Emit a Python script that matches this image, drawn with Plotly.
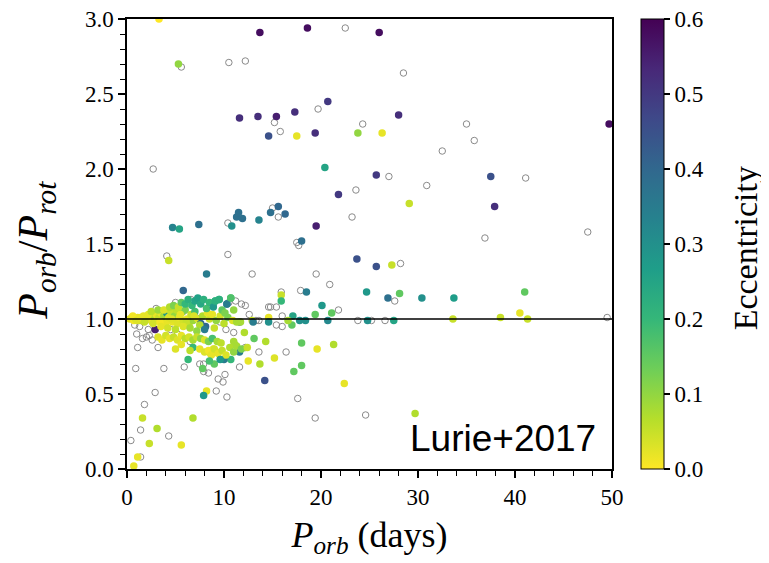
import plotly.graph_objects as go

# ---- colored points (P_orb, P_orb/P_rot, eccentricity) ----
col_x = [3.3, 13.7, 18.6, 5.3, 20.7, 11.6, 13.5, 15.4, 17.3, 14.6, 17.5, 19.4, 23.8, 20.4, 26.0, 28.0, 26.3, 49.7,
         21.8, 4.7, 5.4, 7.4, 10.8, 11.3, 11.5, 11.9, 13.6, 14.8, 15.6, 16.3, 19.5, 18.0, 23.7, 4.3, 8.2, 5.8, 18.5,
         24.7, 15.9, 15.9, 20.1, 19.4, 21.1, 24.8, 17.8, 18.4, 20.7, 17.0, 17.1, 14.6, 14.6, 12.9, 25.7, 37.5, 29.1,
         37.9, 25.7, 27.3, 26.9, 28.1, 30.4, 33.7, 41.0, 27.5, 33.6, 38.5, 40.5, 41.3, 2.9, 1.6, 3.1, 2.3, 5.6, 1.1,
         0.7, 6.8, 8.2, 7.9, 14.2, 22.4, 17.2, 18.0, 18.0, 21.3, 19.6, 15.2, 13.7, 12.5, 14.3, 13.1, 12.1, 11.6, 10.7,
         10.0, 9.0, 6.3, 6.8, 29.7, 10.7, 10.3, 9.5, 9.1, 11.6, 13.0, 11.7, 16.6, 11.0, 11.1, 8.9, 9.2, 8.6,
         # dense cluster along 1.0
         0.3, 0.5, 0.7, 0.9, 1.1, 1.3, 1.5, 1.7, 1.9, 2.1, 2.3, 2.5, 2.6, 2.8, 3.0, 3.1, 3.3, 3.5, 3.6, 3.8, 4.0, 4.1,
         4.3, 4.5, 4.7, 4.9, 5.1, 5.2, 5.4, 5.6, 5.8, 6.0, 6.2, 6.4, 6.6, 6.8, 7.0, 7.3, 7.6, 7.8, 8.1, 8.5, 8.8, 9.2,
         9.6, 10.0, 10.4, 10.9, 11.3,
         0.6, 1.0, 1.4, 1.8, 2.2, 2.7, 3.4, 4.6, 5.5, 6.1, 6.9, 7.5, 8.3,
         # upper band
         2.5, 3.2, 3.8, 4.4, 4.8, 5.3, 5.6, 6.0, 6.3, 6.7, 7.0, 7.3, 7.6, 7.9, 8.2, 8.5, 8.9, 9.1, 9.5, 9.8, 10.3,
         10.7, 10.1, 11.0,
         # lower bands
         3.5, 4.2, 5.0, 5.8, 6.5, 7.2, 8.0, 9.0,
         3.2, 3.6, 4.0, 4.4, 4.8, 5.2, 5.6, 6.0, 6.4, 6.8, 7.2, 7.6, 8.0, 8.4, 8.8, 9.3, 9.7,
         7.5, 8.0, 8.4, 8.7, 9.0, 9.4, 9.8, 10.2, 10.6, 11.0, 11.3, 11.8, 12.4, 9.6, 8.5, 7.8, 6.5, 5.6, 5.0]
col_y = [3.00, 2.91, 2.94, 2.70, 2.45, 2.34, 2.35, 2.35, 2.38, 2.22, 2.22, 2.24, 2.24, 2.01, 2.91, 2.36, 2.24, 2.30,
         1.83, 1.61, 1.60, 1.63, 1.62, 1.68, 1.71, 1.67, 1.66, 1.71, 1.75, 1.70, 1.62, 1.52, 1.40, 1.39, 1.30, 1.19, 1.18,
         1.18, 1.16, 1.12, 1.09, 1.03, 1.04, 0.99, 0.99, 0.99, 0.99, 0.96, 1.02, 1.01, 0.98, 0.99, 1.96, 1.95, 1.77,
         1.75, 1.35, 1.36, 1.14, 1.17, 1.14, 1.14, 1.18, 0.99, 1.00, 1.01, 1.04, 1.00, 0.93, 0.34, 0.27, 0.17, 0.16, 0.08,
         0.02, 0.34, 0.52, 0.49, 0.59, 0.57, 0.65, 0.69, 0.84, 0.83, 0.80, 0.74, 0.70, 0.72, 0.85, 0.87, 0.91, 0.78, 0.73,
         0.73, 0.70, 0.73, 0.81, 0.37, 1.14, 1.10, 1.13, 1.12, 0.98, 0.98, 0.98, 0.99, 0.85, 0.83, 0.80, 0.78, 0.77,
         1.00, 1.01, 0.99, 1.00, 1.01, 0.99, 1.00, 1.02, 0.99, 1.01, 1.00, 1.02, 0.98, 1.01, 1.03, 0.99, 1.01, 1.04, 0.98,
         1.02, 0.97, 1.04, 1.01, 1.05, 0.98, 1.02, 1.06, 0.97, 1.01, 1.04, 0.99, 1.06, 1.00, 0.97, 1.03, 0.99, 1.05, 1.00,
         0.97, 1.02, 0.95, 1.00, 1.03, 0.99, 1.02, 0.97, 1.01, 0.99, 0.98,
         1.02, 0.99, 1.01, 0.98, 1.03, 0.97, 0.98, 1.00, 1.03, 0.98, 1.02, 0.96, 1.04,
         1.05, 1.06, 1.06, 1.08, 1.09, 1.08, 1.11, 1.10, 1.13, 1.09, 1.12, 1.14, 1.10, 1.13, 1.07, 1.11, 1.08, 1.12, 1.13,
         1.06, 1.10, 1.14, 1.04, 1.06,
         0.95, 0.94, 0.93, 0.95, 0.94, 0.92, 0.93, 0.94,
         0.88, 0.86, 0.89, 0.87, 0.88, 0.86, 0.89, 0.87, 0.88, 0.86, 0.88, 0.87, 0.86, 0.85, 0.87, 0.85, 0.84,
         0.80, 0.78, 0.79, 0.76, 0.80, 0.77, 0.79, 0.76, 0.81, 0.78, 0.82, 0.80, 0.81, 0.73, 0.72, 0.67, 0.79, 0.83, 0.80]
col_e = [0.00, 0.58, 0.58, 0.10, 0.50, 0.52, 0.52, 0.55, 0.52, 0.45, 0.02, 0.52, 0.10, 0.25, 0.58, 0.52, 0.02, 0.58,
         0.50, 0.33, 0.25, 0.38, 0.30, 0.38, 0.38, 0.38, 0.33, 0.38, 0.40, 0.40, 0.55, 0.38, 0.45, 0.05, 0.35, 0.40, 0.35,
         0.28, 0.05, 0.20, 0.28, 0.15, 0.15, 0.30, 0.30, 0.30, 0.32, 0.15, 0.25, 0.02, 0.30, 0.05, 0.50, 0.45, 0.05,
         0.52, 0.45, 0.05, 0.38, 0.15, 0.30, 0.27, 0.15, 0.25, 0.05, 0.05, 0.02, 0.05, 0.55, 0.05, 0.07, 0.05, 0.02, 0.02,
         0.02, 0.07, 0.02, 0.28, 0.45, 0.02, 0.15, 0.15, 0.15, 0.07, 0.02, 0.03, 0.07, 0.02, 0.07, 0.15, 0.07, 0.35, 0.20,
         0.35, 0.15, 0.20, 0.20, 0.07, 0.17, 0.35, 0.22, 0.22, 0.35, 0.35, 0.08, 0.08, 0.08, 0.08, 0.02, 0.02, 0.02,
         0.02, 0.03, 0.01, 0.04, 0.02, 0.05, 0.03, 0.02, 0.06, 0.02, 0.04, 0.03, 0.02, 0.07, 0.02, 0.03, 0.05, 0.02, 0.04,
         0.08, 0.02, 0.28, 0.03, 0.05, 0.02, 0.10, 0.06, 0.03, 0.02, 0.08, 0.04, 0.12, 0.02, 0.06, 0.05, 0.09, 0.18, 0.03,
         0.40, 0.07, 0.40, 0.05, 0.02, 0.10, 0.04, 0.06, 0.12, 0.03, 0.08,
         0.01, 0.03, 0.02, 0.05, 0.02, 0.04, 0.01, 0.03, 0.02, 0.05, 0.03, 0.07, 0.02,
         0.06, 0.09, 0.03, 0.07, 0.12, 0.05, 0.15, 0.20, 0.22, 0.20, 0.25, 0.26, 0.24, 0.22, 0.18, 0.20, 0.28, 0.22, 0.22,
         0.15, 0.35, 0.17, 0.12, 0.10,
         0.02, 0.04, 0.06, 0.03, 0.08, 0.10, 0.35, 0.05,
         0.03, 0.02, 0.04, 0.02, 0.05, 0.03, 0.02, 0.06, 0.04, 0.08, 0.05, 0.10, 0.03, 0.12, 0.18, 0.08, 0.06,
         0.02, 0.03, 0.01, 0.02, 0.04, 0.02, 0.05, 0.03, 0.07, 0.10, 0.08, 0.12, 0.05, 0.28, 0.18, 0.15, 0.06, 0.02, 0.03]

# ---- points without eccentricity (hollow) ----
hol_x = [22.5, 5.6, 10.5, 12.2, 19.7, 15.2, 15.8, 24.3, 2.7, 28.5, 35.0, 35.8, 32.5, 23.6, 23.2, 10.4, 15.0, 15.6,
         17.5, 17.7, 4.1, 10.4, 12.9, 19.5, 20.9, 17.9, 15.9, 21.8, 23.8, 14.6, 14.8, 15.4, 16.0, 15.4, 16.0, 13.3,
         13.6, 27.0, 30.9, 41.1, 47.5, 36.9, 28.2, 27.6, 25.2, 26.6, 49.5, 5.0, 6.6, 1.6, 1.1, 0.9, 3.8, 2.9, 1.8,
         1.4, 4.3, 0.4, 1.4, 9.2, 10.3, 5.9, 7.9, 8.4, 7.5, 7.9, 10.1, 11.6, 17.6, 19.4, 24.6, 16.4, 13.6, 12.2,
         2.0, 2.3, 2.6, 3.2, 2.9, 1.3, 2.2, 4.5, 3.0, 5.8, 8.9, 9.6, 10.5, 11.2, 11.8, 12.2, 6.5, 5.2, 8.6, 6.2,
         10.2, 11.0, 12.6, 7.1, 0.8, 1.0, 9.4, 9.9, 6.2]
hol_y = [2.94, 2.68, 2.71, 2.72, 2.40, 2.31, 2.25, 2.30, 2.00, 2.64, 2.30, 2.19, 2.12, 1.86, 1.68, 1.64, 1.74, 1.68,
         1.51, 1.49, 1.42, 1.43, 1.30, 1.30, 1.23, 1.19, 1.18, 1.06, 0.99, 1.08, 1.08, 1.08, 1.02, 0.96, 0.95, 0.99,
         0.99, 1.95, 1.89, 1.94, 1.58, 1.54, 1.37, 1.12, 0.99, 0.99, 1.01, 1.11, 1.13, 0.87, 0.81, 0.67, 0.67, 0.51, 0.43,
         0.26, 0.22, 0.19, 0.08, 0.52, 0.48, 0.68, 0.65, 0.64, 0.70, 0.70, 0.63, 0.68, 0.47, 0.34, 0.36, 0.78, 0.78, 0.81,
         0.88, 0.89, 0.86, 0.81, 0.93, 0.95, 0.93, 0.93, 1.07, 1.05, 1.10, 0.98, 1.11, 1.12, 1.10, 1.09, 0.85, 0.90, 1.02,
         0.96, 0.93, 0.91, 1.03, 1.01, 0.96, 0.90, 0.60, 0.58, 1.10]

x_ticks = [0, 10, 20, 30, 40, 50]
y_ticks = [0.0, 0.5, 1.0, 1.5, 2.0, 2.5, 3.0]
cb_ticks = [0.0, 0.1, 0.2, 0.3, 0.4, 0.5, 0.6]

SERIF = "Liberation Serif"

fig = go.Figure()
fig.add_trace(go.Scatter(
    x=hol_x, y=hol_y, mode="markers",
    marker=dict(size=6.5, color="rgba(0,0,0,0)", line=dict(color="#8a8a8a", width=1)),
    showlegend=False, hoverinfo="skip"))
fig.add_trace(go.Scatter(
    x=col_x, y=col_y, mode="markers",
    marker=dict(size=7.5, color=col_e, colorscale="Viridis", reversescale=True, cmin=0, cmax=0.6,
                line=dict(width=0),
                colorbar=dict(x=1.06, xanchor="left", xpad=0, ypad=0, y=0.5, yanchor="middle",
                              len=1, lenmode="fraction", thickness=23,
                              outlinewidth=1, outlinecolor="black",
                              tickvals=cb_ticks, ticktext=[f"{v:.1f}" for v in cb_ticks],
                              ticks="outside", ticklen=6, tickwidth=1.5, tickcolor="black",
                              ticklabeloverflow="allow",
                              tickfont=dict(family=SERIF, size=23, color="black"))),
    showlegend=False))

fig.add_shape(type="line", xref="x", yref="y", x0=0, x1=50, y0=1, y1=1,
              line=dict(color="black", width=1.5), layer="above")

fig.add_annotation(x=48.6, y=0.055, xref="x", yref="y", text="Lurie+2017", showarrow=False,
                   xanchor="right", yanchor="bottom",
                   font=dict(family="Liberation Sans", size=37, color="black"))

# colorbar title
fig.add_annotation(x=1.276, y=0.49, xref="paper", yref="paper", text="Eccentricity", showarrow=False,
                   textangle=-90, xanchor="center", yanchor="middle",
                   font=dict(family=SERIF, size=34, color="black"))

# y-axis title
fig.add_annotation(x=-0.188, y=0.487, xref="paper", yref="paper",
                   text="<i>P</i><sub><i>orb</i></sub>/<i>P</i><sub><i>rot</i></sub>", showarrow=False,
                   textangle=-90, xanchor="center", yanchor="middle",
                   font=dict(family=SERIF, size=42, color="black"))

fig.update_xaxes(range=[0, 50], tickvals=x_ticks, ticktext=[str(v) for v in x_ticks],
                 showline=True, linecolor="black", linewidth=1.5, mirror=True,
                 ticks="outside", ticklen=7, tickwidth=1.5, tickcolor="black",
                 minor=dict(dtick=2, ticks="outside", ticklen=5, tickwidth=1, tickcolor="black"),
                 showgrid=False, zeroline=False, ticklabeloverflow="allow",
                 tickfont=dict(family=SERIF, size=23, color="black"),
                 title=dict(text="<i>P</i><sub><i>orb</i></sub> (days)", standoff=12,
                            font=dict(family=SERIF, size=36, color="black")))
fig.update_yaxes(range=[0, 3.0], tickvals=y_ticks, ticktext=[f"{v:.1f}" for v in y_ticks],
                 showline=True, linecolor="black", linewidth=1.5, mirror=True,
                 ticks="outside", ticklen=7, tickwidth=1.5, tickcolor="black",
                 minor=dict(dtick=0.1, ticks="outside", ticklen=5, tickwidth=1, tickcolor="black"),
                 showgrid=False, zeroline=False, ticklabeloverflow="allow",
                 tickfont=dict(family=SERIF, size=23, color="black"))

fig.update_layout(width=761, height=555,
                  margin=dict(l=119, r=157, t=11, b=94, autoexpand=False),
                  plot_bgcolor="white", paper_bgcolor="white")

fig.write_html("out.html")
